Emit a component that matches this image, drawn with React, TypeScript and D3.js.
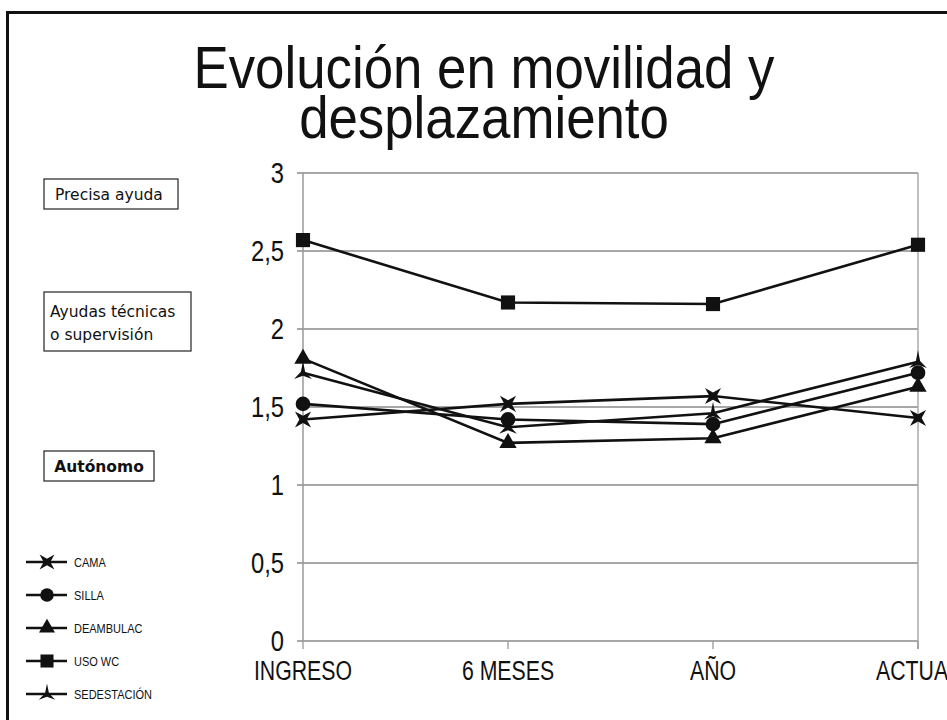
import { useMemo } from 'react';
import * as d3 from 'd3';

const categories = ['INGRESO', '6 MESES', 'AÑO', 'ACTUAL'];
const yTicks = [0, 0.5, 1, 1.5, 2, 2.5, 3];

const seriesNames = ['CAMA', 'SILLA', 'DEAMBULAC', 'USO WC', 'SEDESTACIÓN'];
const cama = [1.42, 1.52, 1.57, 1.43];
const silla = [1.52, 1.42, 1.39, 1.72];
const deambulac = [1.81, 1.27, 1.30, 1.63];
const usoWc = [2.57, 2.17, 2.16, 2.54];
const sedestacion = [1.72, 1.37, 1.46, 1.79];

const levelLabels = [['Precisa ayuda'], ['Ayudas técnicas', 'o supervisión'], ['Autónomo']];

const W = 947;
const H = 720;
// no narrow font installed, so squeeze Liberation Sans horizontally
const SANS = '"Liberation Sans", Arial, sans-serif';

function NText({ x, y, sx, size, anchor = 'start', children }: any) {
  return (
    <text
      transform={`translate(${x},${y}) scale(${sx},1)`}
      textAnchor={anchor}
      fontFamily={SANS}
      fontSize={size}
      fill="#111"
    >
      {children}
    </text>
  );
}

// 4-point star with the points on the diagonals
const symbolX4 = {
  draw(ctx: any, size: number) {
    const r = Math.sqrt(size) * 0.75;
    const ri = r * 0.32;
    for (let i = 0; i < 8; i++) {
      const a = Math.PI / 4 + (i * Math.PI) / 4;
      const rr = i % 2 === 0 ? r : ri;
      const x = Math.cos(a) * rr;
      const y = Math.sin(a) * rr;
      if (i === 0) ctx.moveTo(x, y);
      else ctx.lineTo(x, y);
    }
    ctx.closePath();
  },
};

// tall 3-point concave star pointing up
const symbolStar3 = {
  draw(ctx: any, size: number) {
    const r = Math.sqrt(size) * 0.6;
    ctx.moveTo(0, -r * 1.35);
    ctx.lineTo(r * 0.25, -r * 0.1);
    ctx.lineTo(r * 1.05, r * 0.75);
    ctx.lineTo(0, r * 0.35);
    ctx.lineTo(-r * 1.05, r * 0.75);
    ctx.lineTo(-r * 0.25, -r * 0.1);
    ctx.closePath();
  },
};

export default function App() {
  const x = d3.scalePoint<string>().domain(categories).range([303, 918]);
  const y = d3.scaleLinear().domain([0, 3]).range([641, 173]);

  const series = useMemo(
    () => [
      { name: seriesNames[0], values: cama, symbol: symbolX4, size: 230 },
      { name: seriesNames[1], values: silla, symbol: d3.symbolCircle, size: 170 },
      { name: seriesNames[2], values: deambulac, symbol: d3.symbolTriangle, size: 130 },
      { name: seriesNames[3], values: usoWc, symbol: d3.symbolSquare, size: 200 },
      { name: seriesNames[4], values: sedestacion, symbol: symbolStar3, size: 200 },
    ],
    []
  );

  const line = d3
    .line<number>()
    .x((_, i) => x(categories[i]) as number)
    .y(d => y(d));

  const legendY = d3.scalePoint<string>().domain(seriesNames).range([562, 694]);

  return (
    <svg width={W} height={H} style={{ position: 'absolute', left: 0, top: 0, background: '#fff' }}>
      <rect x={0} y={0} width={W} height={H} fill="#fff" />
      {/* frame */}
      <line x1={6} x2={W} y1={12.5} y2={12.5} stroke="#111" strokeWidth={3} />
      <line x1={7.5} x2={7.5} y1={11} y2={H} stroke="#111" strokeWidth={3} />

      {/* title */}
      <NText x={484} y={88} sx={0.88} size={60} anchor="middle">Evolución en movilidad y</NText>
      <NText x={484} y={138} sx={0.88} size={60} anchor="middle">desplazamiento</NText>

      {/* grid */}
      {yTicks.map(t => (
        <g key={t}>
          <line x1={297} x2={918} y1={y(t)} y2={y(t)} stroke="#8a8a8a" strokeWidth={1.3} />
          <NText x={284} y={y(t) + 10} sx={0.82} size={29} anchor="end">
            {String(t).replace('.', ',')}
          </NText>
        </g>
      ))}
      <line x1={303} x2={303} y1={y(3)} y2={y(0)} stroke="#999" strokeWidth={1.5} />
      <line x1={918} x2={918} y1={y(3)} y2={y(0) + 8} stroke="#aaa" strokeWidth={1.5} />
      {categories.map(c => (
        <g key={c}>
          <line x1={x(c)} x2={x(c)} y1={y(0)} y2={y(0) + 8} stroke="#999" strokeWidth={1.3} />
          <NText x={x(c)} y={680} sx={0.76} size={28} anchor="middle">{c}</NText>
        </g>
      ))}

      {/* series */}
      {series.map(s => (
        <g key={s.name}>
          <path d={line(s.values) ?? ''} fill="none" stroke="#111" strokeWidth={2.6} />
          {s.values.map((v, i) => (
            <path
              key={i}
              transform={`translate(${x(categories[i])},${y(v)})`}
              d={d3.symbol(s.symbol as any, s.size)() ?? ''}
              fill="#111"
            />
          ))}
        </g>
      ))}

      {/* level boxes */}
      <g fontFamily='"DejaVu Sans", Verdana, sans-serif' fill="#111">
        <rect x={44} y={179} width={134} height={30} fill="#fff" stroke="#222" strokeWidth={1.2} />
        <text x={55} y={200} fontSize={15.5}>{levelLabels[0][0]}</text>
        <rect x={44} y={292} width={147} height={59} fill="#fff" stroke="#222" strokeWidth={1.2} />
        <text x={50} y={317} fontSize={15.5}>{levelLabels[1][0]}</text>
        <text x={50} y={340} fontSize={15.5}>{levelLabels[1][1]}</text>
        <rect x={44} y={451} width={110} height={30} fill="#fff" stroke="#222" strokeWidth={1.2} />
        <text x={99} y={472} fontSize={15.5} fontWeight="bold" textAnchor="middle">{levelLabels[2][0]}</text>
      </g>

      {/* legend */}
      {series.map(s => {
        const ly = legendY(s.name) as number;
        return (
          <g key={s.name}>
            <line x1={26} x2={67} y1={ly} y2={ly} stroke="#111" strokeWidth={2.6} />
            <path
              transform={`translate(47,${ly})`}
              d={d3.symbol(s.symbol as any, s.size * 0.85)() ?? ''}
              fill="#111"
            />
            <NText x={74} y={ly + 4.5} sx={0.88} size={12.5}>{s.name}</NText>
          </g>
        );
      })}
    </svg>
  );
}
